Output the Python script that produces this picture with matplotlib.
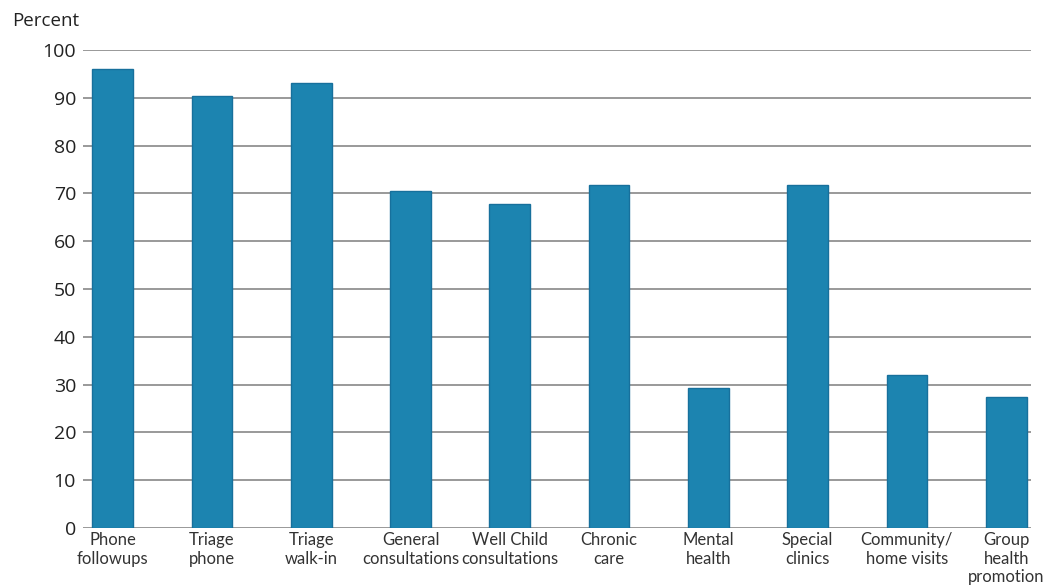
import matplotlib
matplotlib.use("Agg")
import matplotlib.pyplot as plt

categories = ["Phone\nfollowups", "Triage\nphone", "Triage\nwalk-in", "General\nconsultations",
              "Well Child\nconsultations", "Chronic\ncare", "Mental\nhealth", "Special\nclinics",
              "Community/\nhome visits", "Group\nhealth\npromotion"]
values = [96.0, 90.4, 93.0, 70.5, 67.7, 71.8, 29.3, 71.8, 32.0, 27.4]
yticks = [0, 10, 20, 30, 40, 50, 60, 70, 80, 90, 100]

plt.rcParams['font.family'] = ['Open Sans', 'DejaVu Sans']

fig = plt.figure(figsize=(10.47, 5.85), dpi=100)
ax = fig.add_axes([83/1047, 1 - 528/585, (1031-83)/1047, (528-50)/585])

x = list(range(len(categories)))
ax.bar(x, values, width=0.41, color="#1c84b0", edgecolor="#17709c", linewidth=1.0, zorder=3)

ax.set_ylim(0, 100)
ax.set_xlim(-0.30, 9.25)
ax.set_yticks(yticks)
ax.set_yticklabels([str(t) for t in yticks], fontsize=14, color="#222222")
ax.set_xticks(x)
ax.set_xticklabels(categories, fontsize=12, color="#333333", linespacing=1.2,
                   family=['Lato', 'DejaVu Sans'])
ax.tick_params(axis='both', length=0)
ax.tick_params(axis='y', pad=5)
ax.tick_params(axis='x', pad=3)
for s in ax.spines.values():
    s.set_visible(False)
ax.grid(axis='y', color="#888888", linewidth=1.2, zorder=0)
ax.set_axisbelow(True)

fig.text(12/1047, 1 - 21/585, "Percent", fontsize=13.5, color="#222222", va="center", ha="left")

fig.savefig("out.png", dpi=100)
